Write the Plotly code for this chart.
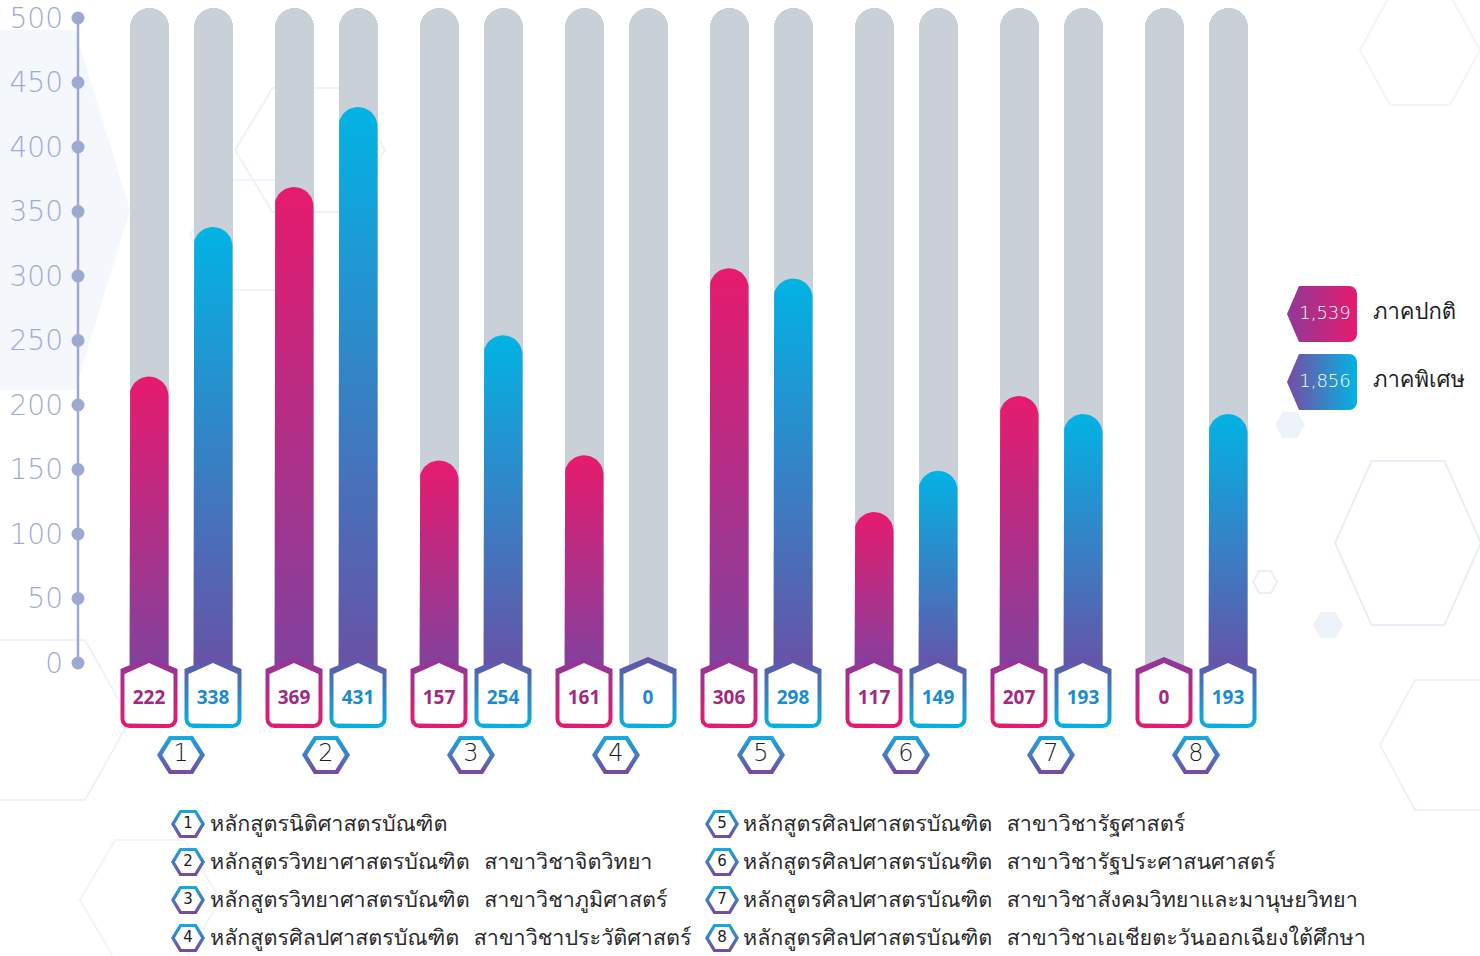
import math
import plotly.graph_objects as go

# ---------------- data ----------------
program_ids = ["1", "2", "3", "4", "5", "6", "7", "8"]
regular = [222, 369, 157, 161, 306, 117, 207, 0]      # ภาคปกติ
special = [338, 431, 254, 0, 298, 149, 193, 193]      # ภาคพิเศษ
y_ticks = [0, 50, 100, 150, 200, 250, 300, 350, 400, 450, 500]
series_names = ["ภาคปกติ", "ภาคพิเศษ"]
course_names = [
    "หลักสูตรนิติศาสตรบัณฑิต",
    "หลักสูตรวิทยาศาสตรบัณฑิต  สาขาวิชาจิตวิทยา",
    "หลักสูตรวิทยาศาสตรบัณฑิต  สาขาวิชาภูมิศาสตร์",
    "หลักสูตรศิลปศาสตรบัณฑิต  สาขาวิชาประวัติศาสตร์",
    "หลักสูตรศิลปศาสตรบัณฑิต  สาขาวิชารัฐศาสตร์",
    "หลักสูตรศิลปศาสตรบัณฑิต  สาขาวิชารัฐประศาสนศาสตร์",
    "หลักสูตรศิลปศาสตรบัณฑิต  สาขาวิชาสังคมวิทยาและมานุษยวิทยา",
    "หลักสูตรศิลปศาสตรบัณฑิต  สาขาวิชาเอเชียตะวันออกเฉียงใต้ศึกษา",
]
track_top = 508

# ---------------- layout constants ----------------
W, H = 1480, 956
X0, DX = 181.0, 145.0        # pixel of group 0, pixels per group
Y0, KY = 663.0, 1.29         # pixel of value 0, pixels per unit
XR = [(0 - X0) / DX, (W - X0) / DX]
YR = [(Y0 - H) / KY, (Y0 - 0) / KY]
OFF = 32 / DX
BW = 39 / DX
HW = 19.5 / DX
RY = 19.5 / KY

PINK, PURP_R = "#E61B6E", "#7E43A0"
CYAN, PURP_S = "#02B3E4", "#6B4FA5"
THAI = "Loma, Garuda, Norasi, Kinnari, Tlwg Typo, Noto Sans Thai Looped, Noto Sans Thai, sans-serif"
NUMF = "DejaVu Sans ExtraLight, DejaVu Sans, sans-serif"


def px2x(px):
    return (px - X0) / DX


def py2y(py):
    return (Y0 - py) / KY


def x2px(x):
    return X0 + x * DX


fig = go.Figure()


def poly(pts_px, colors, orient="vertical", solid=None):
    xs = [px2x(p[0]) for p in pts_px] + [px2x(pts_px[0][0])]
    ys = [py2y(p[1]) for p in pts_px] + [py2y(pts_px[0][1])]
    kw = dict(x=xs, y=ys, mode="lines", fill="toself", line=dict(width=0),
              hoverinfo="skip", showlegend=False)
    if solid:
        kw["fillcolor"] = solid
    else:
        kw["fillgradient"] = dict(type=orient, colorscale=[[0, colors[0]], [1, colors[1]]])
    fig.add_trace(go.Scatter(**kw))


def arc(cx, cy, r, a0, a1, n=8):
    return [(cx + r * math.cos(math.radians(a0 + (a1 - a0) * k / n)),
             cy + r * math.sin(math.radians(a0 + (a1 - a0) * k / n))) for k in range(n + 1)]


def hex_pts(cx, cy, rx, ry):
    return [(cx - rx, cy), (cx - rx / 2, cy - ry), (cx + rx / 2, cy - ry),
            (cx + rx, cy), (cx + rx / 2, cy + ry), (cx - rx / 2, cy + ry)]


# ---------------- background decoration ----------------
def paper_path(pts):
    return "M " + " L ".join(f"{p[0]/W:.5f},{1-p[1]/H:.5f}" for p in pts) + " Z"


deco = [
    (hex_pts(20, 210, 110, 180), "#F4F7FC", None),
    (hex_pts(310, 150, 75, 62), None, "#EDF2FA"),
    (hex_pts(250, 235, 60, 55), None, "#F0F4FB"),
    (hex_pts(40, 720, 90, 80), None, "#EDF2FA"),
    (hex_pts(1408, 543, 73, 82), None, "#E8EEF8"),
    (hex_pts(1450, 745, 70, 65), None, "#EDF2FA"),
    (hex_pts(1290, 425, 15, 13), "#EEF3FA", None),
    (hex_pts(1328, 625, 15, 13), "#EEF3FA", None),
    (hex_pts(1265, 582, 12, 11), None, "#E9EFF9"),
    (hex_pts(1420, 50, 60, 55), None, "#F0F4FB"),
    (hex_pts(150, 900, 70, 60), None, "#F0F4FB"),
]
shapes = []
for pts, fillc, linec in deco:
    shapes.append(dict(type="path", xref="paper", yref="paper", layer="below",
                       path=paper_path(pts),
                       fillcolor=fillc if fillc else "rgba(0,0,0,0)",
                       line=dict(color=linec if linec else "rgba(0,0,0,0)", width=2)))

# ---------------- gray tracks ----------------
xs_track = []
for i in range(len(program_ids)):
    xs_track += [i - OFF, i + OFF]
fig.add_trace(go.Bar(x=xs_track, y=[track_top + 20] * len(xs_track), base=-20,
                     width=BW, marker=dict(color="#C9D0D7", cornerradius=20, line=dict(width=0)),
                     hoverinfo="skip", showlegend=False))


# ---------------- value bars ----------------
def value_bar(xc, v, c_bottom, c_top):
    if v <= 0:
        return
    pts = [(x2px(xc - HW), Y0 + 15)]
    top_c = v - RY
    for k in range(25):
        t = math.pi - math.pi * k / 24
        pts.append((x2px(xc + HW * math.cos(t)), Y0 - (top_c + RY * math.sin(t)) * KY))
    pts.append((x2px(xc + HW), Y0 + 15))
    poly(pts, [c_bottom, c_top])


for i in range(len(program_ids)):
    value_bar(i - OFF, regular[i], PURP_R, PINK)
    value_bar(i + OFF, special[i], PURP_S, CYAN)


# ---------------- value boxes ----------------
def box(cx, c_bottom, c_top):
    o = [(cx, 657), (cx + 28.5, 669)] + arc(cx + 28.5 - 9, 719, 9, 0, 90) + \
        arc(cx - 28.5 + 9, 719, 9, 90, 180) + [(cx - 28.5, 669)]
    poly(o, [c_bottom, c_top])
    i_ = [(cx, 663), (cx + 24.5, 674)] + arc(cx + 24.5 - 5, 719, 5, 0, 90) + \
         arc(cx - 24.5 + 5, 719, 5, 90, 180) + [(cx - 24.5, 674)]
    poly(i_, None, solid="white")


box_x, box_txt, box_col = [], [], []
for i in range(len(program_ids)):
    box(x2px(i - OFF), PINK, "#8D389A")
    box(x2px(i + OFF), CYAN, "#6A4FA5")
    box_x += [i - OFF, i + OFF]
    box_txt += [str(regular[i]), str(special[i])]
    box_col += ["#A22A80", "#1B8BD2"]
fig.add_trace(go.Scatter(x=box_x, y=[py2y(699)] * len(box_x), mode="text", text=box_txt,
                         textfont=dict(family="Open Sans, sans-serif", size=19, color=box_col, weight=700),
                         hoverinfo="skip", showlegend=False))


# ---------------- number hexagons ----------------
def hex_badge(cx, cy, rx, ry, bw):
    poly(hex_pts(cx, cy, rx, ry), ["#7A47A2", "#14ACE2"])
    poly(hex_pts(cx, cy, rx - bw * 1.3, ry - bw), None, solid="white")


for i in range(len(program_ids)):
    hex_badge(x2px(i), 755, 24, 19, 4)
fig.add_trace(go.Scatter(x=list(range(len(program_ids))), y=[py2y(755)] * len(program_ids),
                         mode="text", text=program_ids,
                         textfont=dict(family=NUMF, size=24, color="#1E1E1E", weight=200),
                         hoverinfo="skip", showlegend=False))

# ---------------- axis line & dots ----------------
ax_x = px2x(78)
fig.add_trace(go.Scatter(x=[ax_x] * len(y_ticks), y=y_ticks, mode="lines+markers",
                         line=dict(color="#9CAAD2", width=2.5),
                         marker=dict(color="#9CAAD2", size=13),
                         hoverinfo="skip", showlegend=False))

# ---------------- legend badges ----------------
totals = [sum(regular), sum(special)]
leg_cols = [["#8E3A98", PINK], ["#7A4BA1", CYAN]]
leg_y = [314, 382]
for k in range(2):
    cy = leg_y[k]
    top, bot = cy - 28, cy + 28
    pts = [(1287, cy), (1299, top)] + arc(1349, top + 8, 8, -90, 0) + \
          arc(1349, bot - 8, 8, 0, 90) + [(1299, bot)]
    poly(pts, leg_cols[k], orient="horizontal")
fig.add_trace(go.Scatter(x=[px2x(1325)] * 2, y=[py2y(y) for y in leg_y], mode="text",
                         text=[f"{t:,}" for t in totals],
                         textfont=dict(family=NUMF, size=18, color="white", weight=200),
                         hoverinfo="skip", showlegend=False))
fig.add_trace(go.Scatter(x=[px2x(1373)] * 2, y=[py2y(y - 1) for y in leg_y], mode="text",
                         text=series_names, textposition="middle right",
                         textfont=dict(family=THAI, size=22, color="#1E1E1E"),
                         hoverinfo="skip", showlegend=False))

# ---------------- course list ----------------
list_rows = [824, 862, 900, 938]
col_icon = [188, 722]
col_text = [210, 743]
lx, ly, lt = [], [], []
nx, ny = [], []
for k, name in enumerate(course_names):
    c, r = divmod(k, 4)
    cy = list_rows[r]
    hex_badge(col_icon[c], cy, 17, 14, 3)
    nx.append(px2x(col_icon[c]))
    ny.append(py2y(cy))
    lx.append(px2x(col_text[c]))
    ly.append(py2y(cy + 2))
    lt.append(name)
fig.add_trace(go.Scatter(x=nx, y=ny, mode="text", text=program_ids,
                         textfont=dict(family=NUMF, size=15, color="#1E1E1E"),
                         hoverinfo="skip", showlegend=False))
fig.add_trace(go.Scatter(x=lx, y=ly, mode="text", text=lt, textposition="middle right",
                         textfont=dict(family=THAI, size=21.5, color="#2A2A2A"),
                         hoverinfo="skip", showlegend=False))

fig.update_layout(
    width=W, height=H, margin=dict(l=0, r=0, t=0, b=0),
    paper_bgcolor="white", plot_bgcolor="rgba(0,0,0,0)",
    shapes=shapes, bargap=0,
    xaxis=dict(range=XR, visible=False, fixedrange=True),
    yaxis=dict(range=YR, tickvals=y_ticks, ticktext=[str(v) for v in y_ticks],
               showgrid=False, zeroline=False, showline=False, ticks="",
               anchor="free", position=78 / W, ticklabelstandoff=15,
               tickfont=dict(family=NUMF, size=28, color="#9FAAD2", weight=200),
               fixedrange=True),
)

fig.write_html("out.html", config={"displayModeBar": False},
               post_script="document.body.style.margin='0';")
